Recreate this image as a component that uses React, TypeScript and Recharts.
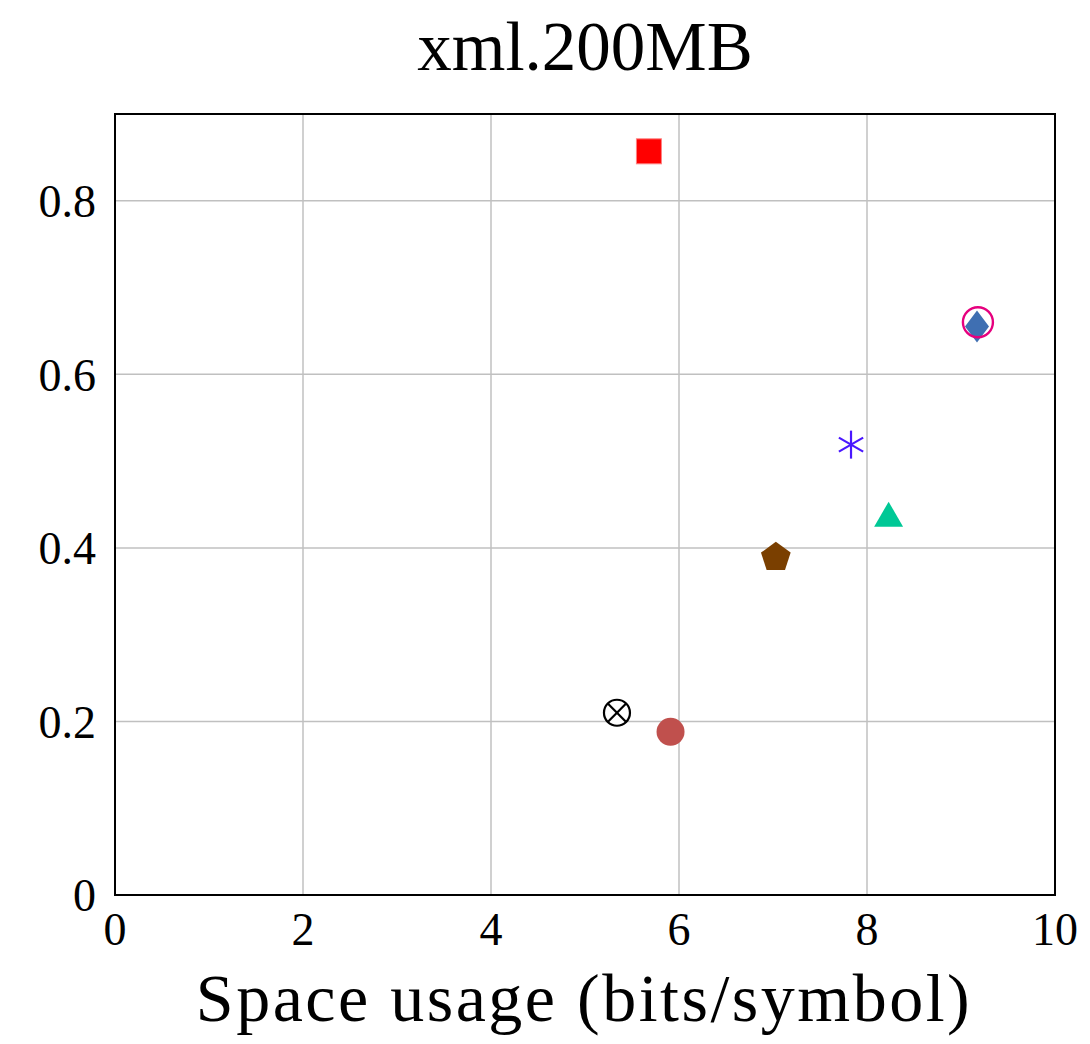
import React from 'react'
import {
  ScatterChart,
  Scatter,
  XAxis,
  YAxis,
  CartesianGrid,
  ReferenceArea,
} from 'recharts'

// one point per method
const pointNames = ['square', 'otimes', 'dot', 'pentagon', 'asterisk', 'triangle', 'diamond', 'ring']
const spaceUsage = [5.68, 5.34, 5.91, 7.03, 7.83, 8.23, 9.17, 9.18]
const timeValues = [0.857, 0.21, 0.188, 0.389, 0.519, 0.434, 0.655, 0.66]
const markColors = ['#ff0000', '#000000', '#c0504d', '#7a3f00', '#4a17ff', '#00c896', '#3f6fb2', '#e6007e']

const xTicks = [0, 2, 4, 6, 8, 10]
const yTicks = [0, 0.2, 0.4, 0.6, 0.8]

const FONT = "'Liberation Serif', 'DejaVu Serif', serif"

const W = 1090
const H = 1044

function makeShape(kind: string, color: string) {
  return (props: any) => {
    const { cx, cy } = props
    if (cx == null || cy == null) return <g />
    switch (kind) {
      case 'square':
        return <rect x={cx - 12.5} y={cy - 12.5} width={25} height={25} fill={color} stroke="#ff8080" strokeWidth={1} />
      case 'dot':
        return <circle cx={cx} cy={cy} r={14} fill={color} />
      case 'otimes': {
        const r = 13
        const d = r * Math.SQRT1_2
        return (
          <g stroke={color} strokeWidth={2.2} fill="none">
            <circle cx={cx} cy={cy} r={r} fill="#fff" />
            <line x1={cx - d} y1={cy - d} x2={cx + d} y2={cy + d} />
            <line x1={cx - d} y1={cy + d} x2={cx + d} y2={cy - d} />
          </g>
        )
      }
      case 'pentagon': {
        const r = 15.6
        const pts = [0, 1, 2, 3, 4]
          .map((i) => {
            const a = -Math.PI / 2 + (i * 2 * Math.PI) / 5
            return `${cx + r * Math.cos(a)},${cy + r * Math.sin(a)}`
          })
          .join(' ')
        return <polygon points={pts} fill={color} />
      }
      case 'triangle': {
        const r = 16.7
        const pts = [0, 1, 2]
          .map((i) => {
            const a = -Math.PI / 2 + (i * 2 * Math.PI) / 3
            return `${cx + r * Math.cos(a)},${cy + r * Math.sin(a)}`
          })
          .join(' ')
        return <polygon points={pts} fill={color} />
      }
      case 'asterisk': {
        const r = 14
        const lines = [90, 30, -30].map((deg) => {
          const a = (deg * Math.PI) / 180
          return (
            <line
              key={deg}
              x1={cx - r * Math.cos(a)}
              y1={cy - r * Math.sin(a)}
              x2={cx + r * Math.cos(a)}
              y2={cy + r * Math.sin(a)}
            />
          )
        })
        return <g stroke={color} strokeWidth={2.2}>{lines}</g>
      }
      case 'diamond':
        return (
          <polygon
            points={`${cx},${cy - 16} ${cx + 12},${cy} ${cx},${cy + 16} ${cx - 12},${cy}`}
            fill={color}
          />
        )
      case 'ring':
        return <circle cx={cx} cy={cy} r={15} fill="none" stroke={color} strokeWidth={2.4} />
      default:
        return <circle cx={cx} cy={cy} r={5} fill={color} />
    }
  }
}

export default function App() {
  const series = pointNames.map((name, i) => ({
    name,
    color: markColors[i],
    data: [{ x: spaceUsage[i], y: timeValues[i] }],
  }))

  return (
    <div style={{ position: 'absolute', left: 0, top: 0, width: W, height: H, background: '#fff' }}>
      <ScatterChart width={W} height={H} margin={{ top: 114, right: 35, left: 0, bottom: 0 }}>
        <CartesianGrid stroke="#c0c0c0" strokeWidth={1.5} />
        <XAxis
          type="number"
          dataKey="x"
          domain={[0, 10]}
          ticks={xTicks}
          height={149}
          tickSize={0}
          tickMargin={17}
          axisLine={{ stroke: '#000', strokeWidth: 2 }}
          tick={{ fill: '#000', fontSize: 46, fontFamily: FONT }}
          allowDataOverflow
        />
        <YAxis
          type="number"
          dataKey="y"
          domain={[0, 0.9]}
          ticks={yTicks}
          width={115}
          tickSize={0}
          tickMargin={19}
          axisLine={{ stroke: '#000', strokeWidth: 2 }}
          tick={{ fill: '#000', fontSize: 46, fontFamily: FONT }}
          tickFormatter={(v: number) => (v === 0 ? '0' : v.toFixed(1))}
          allowDataOverflow
        />
        <ReferenceArea x1={0} x2={10} y1={0} y2={0.9} fill="none" stroke="#000" strokeWidth={2} fillOpacity={0} />
        {series.map((s) => (
          <Scatter
            key={s.name}
            name={s.name}
            data={s.data}
            shape={makeShape(s.name, s.color)}
            isAnimationActive={false}
          />
        ))}
      </ScatterChart>
      <svg
        width={W}
        height={H}
        style={{ position: 'absolute', left: 0, top: 0, pointerEvents: 'none' }}
      >
        <text x={585} y={70} textAnchor="middle" fontFamily={FONT} fontSize={69} fill="#000">
          xml.200MB
        </text>
        <text
          x={584}
          y={1021}
          textAnchor="middle"
          fontFamily={FONT}
          fontSize={68}
          letterSpacing={2.5}
          fill="#000"
        >
          Space usage (bits/symbol)
        </text>
      </svg>
    </div>
  )
}
